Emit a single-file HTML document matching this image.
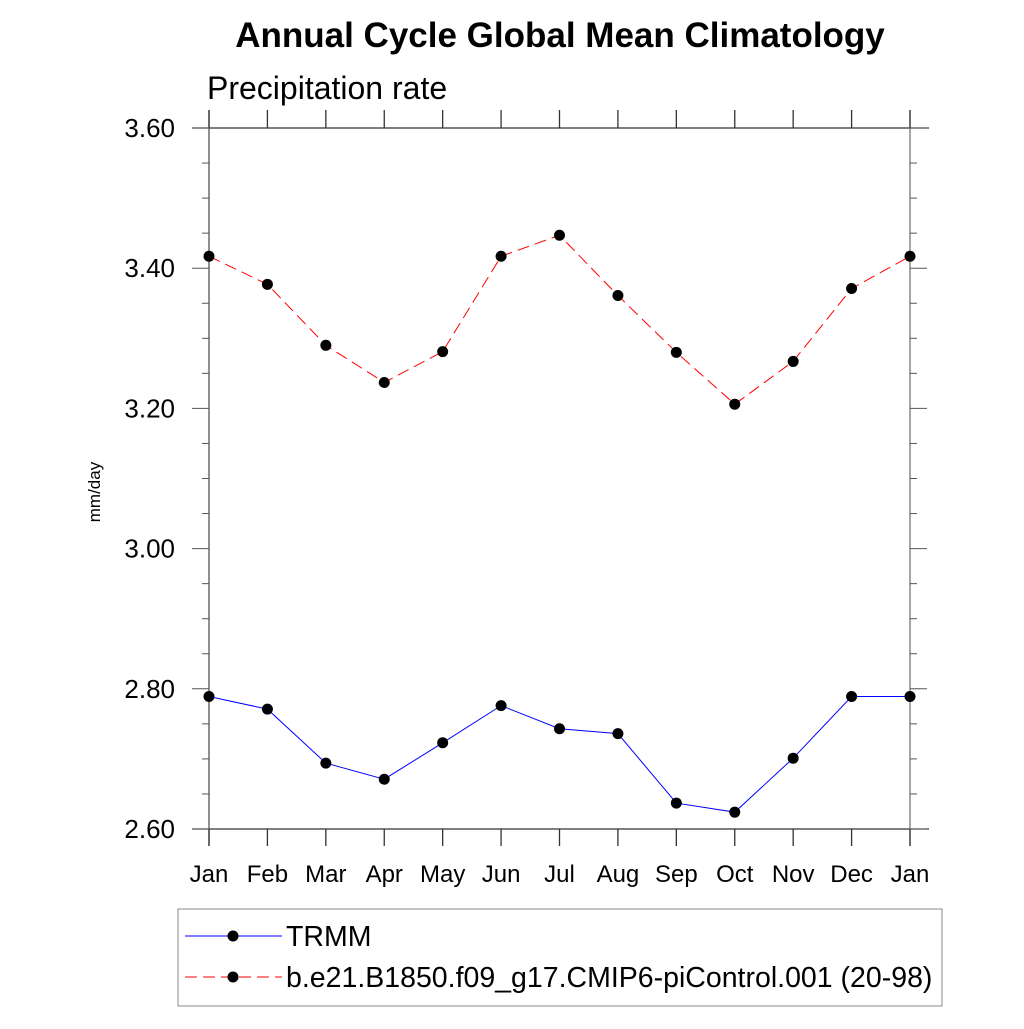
<!DOCTYPE html>
<html><head><meta charset="utf-8"><style>
body{margin:0;background:#fff;font-family:"Liberation Sans",sans-serif}
svg text{font-family:"Liberation Sans",sans-serif}
</style></head><body>
<svg id="c" width="1024" height="1024" xmlns="http://www.w3.org/2000/svg">
<text x="560" y="47" font-size="35" font-weight="bold" text-anchor="middle">Annual Cycle Global Mean Climatology</text>
<text x="207" y="99" font-size="32">Precipitation rate</text>
<text transform="translate(100,492) rotate(-90)" font-size="17" text-anchor="middle">mm/day</text>
<g id="axes"></g>
<g id="series"></g>
<rect x="178" y="909" width="764" height="97" fill="none" stroke="#888" stroke-width="1"/>
<g>
<line x1="185" y1="936" x2="282" y2="936" stroke="#0000ff" stroke-width="1"/>
<circle cx="233" cy="936" r="5.5" fill="#000"/>
<text x="286" y="946" font-size="28.5">TRMM</text></g>
<g>
<line x1="185" y1="977" x2="282" y2="977" stroke="#ff0000" stroke-width="1" stroke-dasharray="12,6"/>
<circle cx="233" cy="977" r="5.5" fill="#000"/>
<text x="286" y="987" font-size="28.5">b.e21.B1850.f09_g17.CMIP6-piControl.001 (20-98)</text></g>
</svg>
<script>
const months=["Jan","Feb","Mar","Apr","May","Jun","Jul","Aug","Sep","Oct","Nov","Dec","Jan"];
const trmm=[2.789,2.771,2.694,2.671,2.723,2.776,2.743,2.736,2.637,2.624,2.701,2.789,2.789];
const model=[3.417,3.377,3.290,3.237,3.281,3.417,3.447,3.361,3.280,3.206,3.267,3.371,3.417];
const yTicks=[2.6,2.8,3.0,3.2,3.4,3.6];
const NS="http://www.w3.org/2000/svg";
const L=209,R=910,T=128,B=829,ymin=2.6,ymax=3.6;
const xs=i=>L+(R-L)*i/12;
const ys=v=>B-(v-ymin)/(ymax-ymin)*(B-T);
function mk(t,a,p){const e=document.createElementNS(NS,t);for(const k in a)e.setAttribute(k,a[k]);p.appendChild(e);return e;}
const ax=document.getElementById('axes'),sg=document.getElementById('series');
let e=mk('line',{x1:192,y1:T,x2:929,y2:T,stroke:'#333','stroke-width':1.3},ax);

e=mk('line',{x1:192,y1:B,x2:929,y2:B,stroke:'#333','stroke-width':1.3},ax);

e=mk('line',{x1:L,y1:110,x2:L,y2:846,stroke:'#555','stroke-width':1.3},ax);

e=mk('line',{x1:R,y1:110,x2:R,y2:846,stroke:'#777','stroke-width':1.3},ax);

months.forEach((m,i)=>{const x=xs(i);
 mk('line',{x1:x,y1:110,x2:x,y2:T,stroke:'#333','stroke-width':1.3},ax);
 mk('line',{x1:x,y1:B,x2:x,y2:846,stroke:'#333','stroke-width':1.3},ax);
 const t=mk('text',{x:x,y:882,'font-size':24,'text-anchor':'middle'},ax);t.textContent=m;
 });
for(let v=ymin;v<=ymax+1e-9;v+=0.05){const y=ys(v);const major=Math.abs(Math.round(v*10)/10-v)<1e-6&&Math.round(v*10)%2===0;
 const len=major?17:7;
 mk('line',{x1:L-len,y1:y,x2:L,y2:y,stroke:'#555','stroke-width':1},ax);
 mk('line',{x1:R,y1:y,x2:R+len,y2:y,stroke:'#555','stroke-width':1},ax);}
yTicks.forEach(v=>{const t=mk('text',{x:175,y:ys(v)+9,'font-size':26,'text-anchor':'end'},ax);t.textContent=v.toFixed(2);
 });
function series(d,col,dash,name){
 const p=mk('polyline',{points:d.map((v,i)=>xs(i)+','+ys(v)).join(' '),fill:'none',stroke:col,'stroke-width':1,'stroke-dasharray':dash},sg);
 
 d.forEach((v,i)=>{const c=mk('circle',{cx:xs(i),cy:ys(v),r:5.5,fill:'#000'},sg);
  });}
series(trmm,'#0000ff','none','trmm');
series(model,'#ff0000','12,6','model');
</script>
</body></html>
